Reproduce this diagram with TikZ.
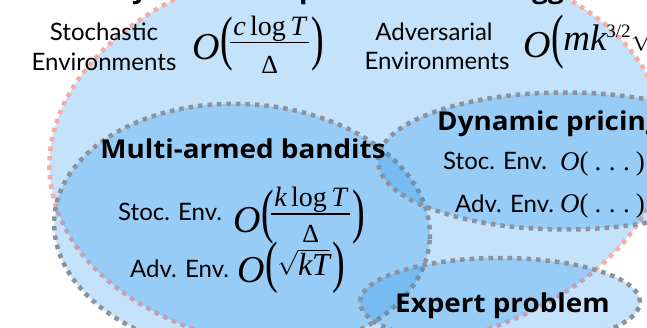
\documentclass[tikz,border=0pt]{standalone}
\usepackage{amsmath}
\usepackage{graphicx}
\usepackage{fontspec}
\setmainfont{Lato}
\newfontfamily\boldsf{Open Sans}[FakeStretch=1.07]
\newfontfamily\tms{Liberation Serif}
\usetikzlibrary{shapes.geometric}
\definecolor{blobc}{RGB}{19,139,235}
\definecolor{pinkb}{RGB}{246,172,165}
\definecolor{grayb}{RGB}{140,146,155}
% math pieces set in a Times-like face
\newcommand\Mi[2][38]{\hbox{\fontsize{#1}{#1}\selectfont\tms\itshape #2}}
\newcommand\Mr[2][38]{\hbox{\fontsize{#1}{#1}\selectfont\tms #2}}
\newcommand\Par[2][1.58]{\raisebox{1pt}{\scalebox{1}[#1]{\fontsize{38}{38}\selectfont\tms #2}}}
\newcommand\numer[1]{\fontsize{28}{28}\selectfont\tms\itshape #1\upshape\hspace{0.16em}log\hspace{0.16em}\itshape T}
\newcommand\denom{\fontsize{26}{26}\selectfont\tms Δ}
% #1 letter, #2 lowering of the fraction, #3 gap below the bar
\newcommand\fracO[3]{\Mi{O}\kern1pt\Par(\kern-3pt\raisebox{#2}{\vbox{\halign{\hfil##\hfil\cr\kern3pt\numer{#1}\kern3pt\cr\noalign{\kern0.5pt\hrule height1.5pt\kern#3}\denom\cr}}}\kern2pt\Par)}
\newcommand\dotsO{\Mi[27]{O}\Mr[27]{(\hspace{0.22em}.\hspace{0.28em}.\hspace{0.28em}.\hspace{0.22em})}}
\tikzset{
  blob/.style={ellipse, inner sep=0pt, outer sep=0pt, fill=blobc, fill opacity=0.25, draw opacity=1,
               line width=4.5pt, dash pattern=on 4.5pt off 5pt},
  world/.style={blob, draw=pinkb},
  setb/.style={blob, draw=grayb},
  txt/.style={inner sep=0pt, font=\fontsize{24}{28}\selectfont},
  ttl/.style={inner sep=0pt, font=\boldsf\bfseries\fontsize{26}{30}\selectfont},
  mth/.style={inner sep=0pt, font=\fontsize{38}{40}\selectfont}
}
\begin{document}
\begin{tikzpicture}[x=1pt,y=-1pt]
\useasboundingbox (0,0) rectangle (647,327);
\clip (0,0) rectangle (647,327);
% regions
\node[world, minimum width=616pt, minimum height=400pt, rotate=4] (all) at (357,153) {};
\node[setb, minimum width=376pt, minimum height=250pt, rotate=-3] (mab) at (242,229) {};
\node[setb, minimum width=374pt, minimum height=137pt] (dyn) at (565,161) {};
\node[setb, minimum width=280pt, minimum height=88pt] (exp) at (500,302) {};
% cut-off title
\node[ttl, anchor=base] (t1) at (140,-2) {y};
\node[ttl, anchor=base] (t2) at (308,-2) {p};
\node[ttl, anchor=base] (t3) at (548,-2) {gg};
% top texts
\node[txt, anchor=base] (st1) at (104,40) {Stochastic};
\node[txt, anchor=base] (st2) at (104,70) {Environments};
\node[mth, anchor=base west] (stm) at (192,59) {\fracO{c}{-14.5pt}{13pt}};
\node[txt, anchor=base] (ad1) at (434,40) {Adversarial};
\node[txt, anchor=base] (ad2) at (437,69) {Environments};
\node[mth, anchor=base west] (adm) at (523,57) {\Mi{O}\kern1pt\Par(\kern-1pt\raisebox{7pt}{\Mi[37]{mk}\raisebox{13pt}{\Mr[19]{3/2}}$\sqrt{\Mi[37]{T}}$}\kern1pt\Par)};
% MAB
\node[ttl, anchor=base] (mabt) at (243,158) {Multi-armed bandits};
\node[txt, anchor=base west] (ms) at (118,220) {Stoc. Env.};
\node[mth, anchor=base west] (msm) at (233,232) {\fracO{k}{-10pt}{10pt}};
\node[txt, anchor=base west] (ma) at (130,277) {Adv. Env.};
\node[mth, anchor=base west] (mam) at (237,282) {\Mi{O}\kern1pt\Par[1.5](\kern-1pt\raisebox{7pt}{$\sqrt{\Mi[32]{kT}}$}\kern2pt\Par[1.5])};
% dynamic pricing
\node[ttl, anchor=base west] (dynt) at (437,130) {Dynamic pricing};
\node[txt, anchor=base west] (ds) at (443,169) {Stoc. Env.};
\node[inner sep=0pt, anchor=base west] (dsm) at (560,170) {\dotsO};
\node[txt, anchor=base west] (da) at (455,212) {Adv. Env.};
\node[inner sep=0pt, anchor=base west] (dam) at (560,212) {\dotsO};
% expert
\node[ttl, anchor=base west] (expt) at (395,312) {Expert problem};
\end{tikzpicture}
\end{document}
